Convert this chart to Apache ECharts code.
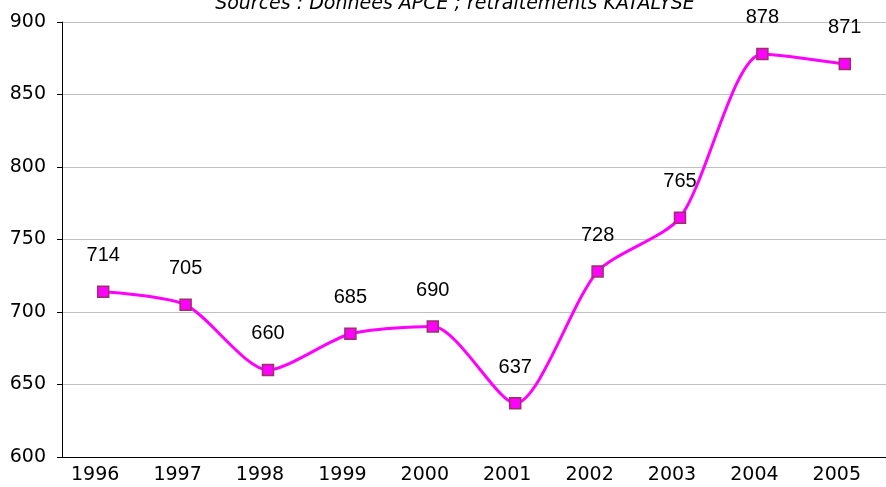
<!doctype html>
<html lang="fr">
<head>
<meta charset="UTF-8">
<title>Créations</title>
<script src="https://cdn.jsdelivr.net/npm/echarts@6/dist/echarts.min.js"></script>
<style>
    html, body { margin: 0; padding: 0; background: #fff; }
    #chart { width: 886px; height: 487px; }
</style>
</head>
<body>
<div id="chart"></div>
<script type="text/javascript">
    var years = ['1996', '1997', '1998', '1999', '2000', '2001', '2002', '2003', '2004', '2005'];
    var values = [714, 705, 660, 685, 690, 637, 728, 765, 878, 871];
    var yTicks = [600, 650, 700, 750, 800, 850, 900];

    var myChart = echarts.init(document.getElementById('chart'));
    myChart.setOption({
        animation: false,
        title: {
            text: 'Sources : Données APCE ; retraitements KATALYSE',
            left: 450,
            textAlign: 'center',
            top: -10,
            textStyle: {
                fontFamily: 'DejaVu Sans',
                fontStyle: 'italic',
                fontWeight: 'normal',
                fontSize: 19,
                color: '#000'
            }
        },
        grid: { left: 62, right: -3, top: 22, bottom: 30 },
        xAxis: {
            type: 'category',
            data: years,
            boundaryGap: true,
            axisLine: { lineStyle: { color: '#000', width: 1 } },
            axisTick: { length: 5, lineStyle: { color: '#000' } },
            axisLabel: {
                fontFamily: 'DejaVu Sans',
                fontSize: 19,
                color: '#000',
                margin: 9,
                padding: [0, 16, 0, 0]
            }
        },
        yAxis: {
            type: 'value',
            min: yTicks[0],
            max: yTicks[yTicks.length - 1],
            interval: 50,
            axisLine: { show: true, lineStyle: { color: '#000', width: 1 } },
            axisTick: { show: true, length: 5, lineStyle: { color: '#000' } },
            splitLine: { lineStyle: { color: '#c0c0c0', width: 1 } },
            axisLabel: {
                fontFamily: 'DejaVu Sans',
                fontSize: 19,
                color: '#000',
                margin: 16
            }
        },
        series: [{
            type: 'line',
            data: values,
            smooth: 0.25,
            symbol: 'rect',
            symbolSize: 11,
            lineStyle: { color: '#ff00ff', width: 3 },
            itemStyle: { color: '#ff00ff', borderColor: '#993366', borderWidth: 1.5 },
            label: {
                show: true,
                position: 'top',
                distance: 20,
                fontFamily: 'Liberation Sans',
                fontSize: 20,
                color: '#000'
            }
        }]
    });
</script>
</body>
</html>
